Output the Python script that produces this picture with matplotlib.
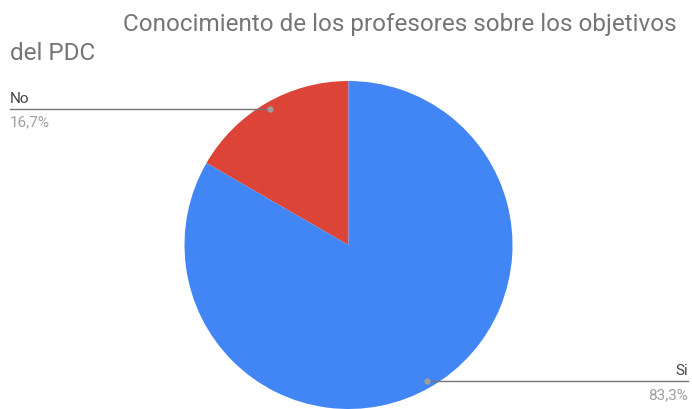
import matplotlib.pyplot as plt
import numpy as np

plt.rcParams['font.family'] = ['Roboto', 'DejaVu Sans']

labels = ["No", "Si"]
values = [1, 5]
pct_labels = ["16,7%", "83,3%"]
colors = ["#DB4437", "#4285F4"]

W, H = 692, 410
fig = plt.figure(figsize=(W / 100, H / 100), dpi=100)
ax = fig.add_axes([0, 0, 1, 1])

# pie, centre and radius in pixels
cx, cy, r = 348.5, H - 246, 164
wedges, _ = ax.pie(values, colors=colors, startangle=90, counterclock=True,
                   center=(cx, cy), radius=r, frame=True,
                   wedgeprops=dict(linewidth=0))
ax.set_xlim(0, W)
ax.set_ylim(0, H)
ax.set_aspect("equal")
ax.axis("off")

# leader lines
for w, lab, pct in zip(wedges, labels, pct_labels):
    ang = np.deg2rad((w.theta1 + w.theta2) / 2)
    px = cx + 0.96 * r * np.cos(ang)
    py = cy + 0.96 * r * np.sin(ang)
    ax.plot(px, py, "o", color="#9e9e9e", ms=3.5, zorder=5, clip_on=False)
    if np.cos(ang) < 0:
        x_end, ha = 10, "left"
    else:
        x_end, ha = 688, "right"
    ax.plot([px, x_end], [py, py], color="#757575", lw=1, zorder=4)
    ax.text(x_end, py + 11, lab, ha=ha, va="center", fontsize=11, color="#444444")
    ax.text(x_end, py - 13, pct, ha=ha, va="center", fontsize=11, color="#9e9e9e")

fig.text(123 / W, 1 - 25 / H, "Conocimiento de los profesores sobre los objetivos",
         ha="left", va="center", fontsize=17.5, color="#757575")
fig.text(10 / W, 1 - 53 / H, "del PDC",
         ha="left", va="center", fontsize=17.5, color="#757575")

fig.savefig("out.png", dpi=100)
